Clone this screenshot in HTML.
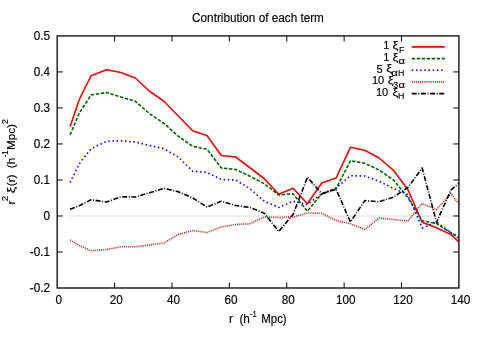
<!DOCTYPE html>
<html><head><meta charset="utf-8"><title>Contribution of each term</title>
<style>
html,body{margin:0;padding:0;background:#fff;}
body{width:480px;height:337px;overflow:hidden;}
svg{display:block;will-change:transform;}
text{font-family:"Liberation Sans",sans-serif;font-size:11.75px;fill:#000;stroke:#000;stroke-width:0.15px;}
.c{fill:none;stroke-width:1.6;stroke-linejoin:round;}
</style></head><body>
<svg width="480" height="337" viewBox="0 0 480 337">
<rect width="480" height="337" fill="#fff"/>
<line x1="70.11" y1="215.97" x2="458.90" y2="215.97" stroke="#e9e9e9" stroke-width="1.4"/>
<polyline class="c" stroke="#ff0000" points="70.11,126.60 79.29,99.50 91.06,75.75 106.55,69.75 120.90,72.50 135.24,78.00 149.59,91.25 163.94,101.25 178.28,116.00 192.63,130.75 206.98,135.50 221.32,155.50 235.67,157.00 250.02,167.75 264.36,178.75 278.71,194.25 293.06,188.25 307.40,203.75 321.75,183.00 336.09,178.00 350.44,147.30 364.79,150.25 379.13,158.00 393.48,170.30 407.83,189.50 422.17,222.20 436.52,227.80 450.87,234.40 458.90,242.00"/>
<polyline class="c" stroke="#006400" stroke-dasharray="3.4 1.6" points="70.11,134.85 79.29,113.00 91.06,95.00 106.55,92.50 120.90,97.00 135.24,101.25 149.59,113.75 163.94,123.25 178.28,136.25 192.63,146.25 206.98,149.25 221.32,168.00 235.67,169.50 250.02,176.25 264.36,183.75 278.71,195.00 293.06,193.75 307.40,211.25 321.75,193.75 336.09,188.75 350.44,160.75 364.79,163.25 379.13,170.00 393.48,180.00 407.83,197.50 422.17,220.70 436.52,223.50 450.87,232.60 458.90,238.30"/>
<polyline class="c" stroke="#0000ff" stroke-dasharray="1.5 2.7" points="70.11,182.50 79.29,163.75 91.06,148.75 106.55,141.25 120.90,140.75 135.24,142.00 149.59,145.50 163.94,148.75 178.28,157.00 192.63,171.25 206.98,172.50 221.32,179.50 235.67,180.00 250.02,188.75 264.36,201.25 278.71,207.50 293.06,201.25 307.40,204.50 321.75,193.75 336.09,188.00 350.44,175.75 364.79,176.00 379.13,181.25 393.48,188.50 407.83,194.50 422.17,228.00 436.52,222.00 450.87,232.60 458.90,237.00"/>
<polyline class="c" stroke="#b22222" stroke-dasharray="1.05 1.05" points="70.11,240.00 79.29,245.50 91.06,250.75 106.55,249.50 120.90,246.75 135.24,246.75 149.59,245.00 163.94,243.00 178.28,234.50 192.63,230.50 206.98,232.50 221.32,227.00 235.67,224.50 250.02,223.75 264.36,217.00 278.71,217.50 293.06,217.00 307.40,213.00 321.75,213.25 336.09,220.50 350.44,223.75 364.79,229.50 379.13,218.00 393.48,219.40 407.83,221.10 422.17,203.60 436.52,209.60 450.87,193.50 458.90,204.00"/>
<polyline class="c" stroke="#000000" stroke-dasharray="5 1.6 1 1.6" points="70.11,209.25 79.29,205.75 91.06,199.75 106.55,202.00 120.90,196.75 135.24,197.00 149.59,192.75 163.94,188.25 178.28,191.75 192.63,198.00 206.98,207.00 221.32,201.25 235.67,205.50 250.02,207.50 264.36,213.25 278.71,231.50 293.06,214.50 307.40,177.30 321.75,193.75 336.09,189.25 350.44,222.00 364.79,200.60 379.13,201.75 393.48,197.25 407.83,187.50 422.17,168.00 436.52,222.30 450.87,190.20 458.90,183.30"/>
<rect x="57.2" y="35.9" width="401.70" height="252.10" stroke="#141414" stroke-width="1.4" fill="none"/>
<text transform="translate(58.80,303.6) scale(1,1.06)" text-anchor="middle">0</text>
<line x1="114.59" y1="288.0" x2="114.59" y2="282.4" stroke="#1a1a1a" stroke-width="1.1" fill="none"/>
<line x1="114.59" y1="35.9" x2="114.59" y2="41.5" stroke="#1a1a1a" stroke-width="1.1" fill="none"/>
<text transform="translate(116.19,303.6) scale(1,1.06)" text-anchor="middle">20</text>
<line x1="171.97" y1="288.0" x2="171.97" y2="282.4" stroke="#1a1a1a" stroke-width="1.1" fill="none"/>
<line x1="171.97" y1="35.9" x2="171.97" y2="41.5" stroke="#1a1a1a" stroke-width="1.1" fill="none"/>
<text transform="translate(173.57,303.6) scale(1,1.06)" text-anchor="middle">40</text>
<line x1="229.36" y1="288.0" x2="229.36" y2="282.4" stroke="#1a1a1a" stroke-width="1.1" fill="none"/>
<line x1="229.36" y1="35.9" x2="229.36" y2="41.5" stroke="#1a1a1a" stroke-width="1.1" fill="none"/>
<text transform="translate(230.96,303.6) scale(1,1.06)" text-anchor="middle">60</text>
<line x1="286.74" y1="288.0" x2="286.74" y2="282.4" stroke="#1a1a1a" stroke-width="1.1" fill="none"/>
<line x1="286.74" y1="35.9" x2="286.74" y2="41.5" stroke="#1a1a1a" stroke-width="1.1" fill="none"/>
<text transform="translate(288.34,303.6) scale(1,1.06)" text-anchor="middle">80</text>
<line x1="344.13" y1="288.0" x2="344.13" y2="282.4" stroke="#1a1a1a" stroke-width="1.1" fill="none"/>
<line x1="344.13" y1="35.9" x2="344.13" y2="41.5" stroke="#1a1a1a" stroke-width="1.1" fill="none"/>
<text transform="translate(345.73,303.6) scale(1,1.06)" text-anchor="middle">100</text>
<line x1="401.51" y1="288.0" x2="401.51" y2="282.4" stroke="#1a1a1a" stroke-width="1.1" fill="none"/>
<line x1="401.51" y1="35.9" x2="401.51" y2="41.5" stroke="#1a1a1a" stroke-width="1.1" fill="none"/>
<text transform="translate(403.11,303.6) scale(1,1.06)" text-anchor="middle">120</text>
<text transform="translate(460.50,303.6) scale(1,1.06)" text-anchor="middle">140</text>
<text transform="translate(50,292.30) scale(1,1.06)" text-anchor="end">-0.2</text>
<line x1="57.2" y1="251.99" x2="62.800000000000004" y2="251.99" stroke="#1a1a1a" stroke-width="1.1" fill="none"/>
<line x1="458.9" y1="251.99" x2="453.29999999999995" y2="251.99" stroke="#1a1a1a" stroke-width="1.1" fill="none"/>
<text transform="translate(50,256.29) scale(1,1.06)" text-anchor="end">-0.1</text>
<line x1="57.2" y1="215.97" x2="62.800000000000004" y2="215.97" stroke="#1a1a1a" stroke-width="1.1" fill="none"/>
<line x1="458.9" y1="215.97" x2="453.29999999999995" y2="215.97" stroke="#1a1a1a" stroke-width="1.1" fill="none"/>
<text transform="translate(50,220.27) scale(1,1.06)" text-anchor="end">0</text>
<line x1="57.2" y1="179.96" x2="62.800000000000004" y2="179.96" stroke="#1a1a1a" stroke-width="1.1" fill="none"/>
<line x1="458.9" y1="179.96" x2="453.29999999999995" y2="179.96" stroke="#1a1a1a" stroke-width="1.1" fill="none"/>
<text transform="translate(50,184.26) scale(1,1.06)" text-anchor="end">0.1</text>
<line x1="57.2" y1="143.94" x2="62.800000000000004" y2="143.94" stroke="#1a1a1a" stroke-width="1.1" fill="none"/>
<line x1="458.9" y1="143.94" x2="453.29999999999995" y2="143.94" stroke="#1a1a1a" stroke-width="1.1" fill="none"/>
<text transform="translate(50,148.24) scale(1,1.06)" text-anchor="end">0.2</text>
<line x1="57.2" y1="107.93" x2="62.800000000000004" y2="107.93" stroke="#1a1a1a" stroke-width="1.1" fill="none"/>
<line x1="458.9" y1="107.93" x2="453.29999999999995" y2="107.93" stroke="#1a1a1a" stroke-width="1.1" fill="none"/>
<text transform="translate(50,112.23) scale(1,1.06)" text-anchor="end">0.3</text>
<line x1="57.2" y1="71.91" x2="62.800000000000004" y2="71.91" stroke="#1a1a1a" stroke-width="1.1" fill="none"/>
<line x1="458.9" y1="71.91" x2="453.29999999999995" y2="71.91" stroke="#1a1a1a" stroke-width="1.1" fill="none"/>
<text transform="translate(50,76.21) scale(1,1.06)" text-anchor="end">0.4</text>
<text transform="translate(50,40.20) scale(1,1.06)" text-anchor="end">0.5</text>
<text transform="translate(258,22.3) scale(1,1.06)" text-anchor="middle">Contribution of each term</text>
<text transform="translate(228.95,322.9) scale(1,1.06)" xml:space="preserve">r  (h</text>
<text transform="translate(249.9,316.7) scale(0.86,1.1)" style="font-size:8.8px">-1</text>
<text transform="translate(261.3,322.9) scale(0.972,1.06)">Mpc)</text>
<g transform="translate(14.6,203.8) rotate(-90)">
<text x="-0.75" y="0">r</text>
<text transform="translate(2.5,-6.6) scale(1.1,1)" style="font-size:8.8px">2</text>
<text transform="translate(10.6,0) scale(1.25,1)">ξ</text>
<text x="17.55" y="0">(r)</text>
<text x="35.55" y="0">(h</text>
<text transform="translate(46.45,-6.6) scale(0.88,1)" style="font-size:8.8px">-1</text>
<text x="53.7" y="0">Mpc)</text>
<text x="79.7" y="-6.6" style="font-size:8.8px">2</text>
</g>
<line x1="411.7" y1="46.9" x2="444.8" y2="46.9" stroke="#ff0000" stroke-width="1.6"/>
<text x="383.2" y="49.20" style="font-size:11.0px">1</text>
<text transform="translate(392.45,49.00) scale(1.2,1)" style="font-size:11.0px">ξ</text>
<text transform="translate(399.0,52.70) scale(1.0,1)" style="font-size:8.8px">F</text>
<line x1="411.7" y1="58.65" x2="444.8" y2="58.65" stroke="#006400" stroke-width="1.6" stroke-dasharray="3.4 1.6"/>
<text x="383.2" y="60.95" style="font-size:11.0px">1</text>
<text transform="translate(392.45,60.75) scale(1.2,1)" style="font-size:11.0px">ξ</text>
<text transform="translate(398.45,64.45) scale(1.28,1)" style="font-size:8.8px">α</text>
<line x1="411.7" y1="70.25" x2="444.8" y2="70.25" stroke="#0000ff" stroke-width="1.6" stroke-dasharray="1.5 2.7"/>
<text x="376.4" y="72.55" style="font-size:11.0px">5</text>
<text transform="translate(386.35,72.35) scale(1.2,1)" style="font-size:11.0px">ξ</text>
<text transform="translate(391.35,76.05) scale(1.28,1)" style="font-size:8.8px">α</text>
<text transform="translate(398.1,76.05) scale(1.0,1)" style="font-size:8.8px">H</text>
<line x1="411.7" y1="81.9" x2="444.8" y2="81.9" stroke="#b22222" stroke-width="1.6" stroke-dasharray="1.05 1.05"/>
<text x="372.0" y="84.20" style="font-size:11.0px">10</text>
<text transform="translate(387.65,84.00) scale(1.2,1)" style="font-size:11.0px">ξ</text>
<text transform="translate(393.15,87.70) scale(1.0,1)" style="font-size:8.8px">3</text>
<text transform="translate(398.45,87.70) scale(1.28,1)" style="font-size:8.8px">α</text>
<line x1="411.7" y1="93.65" x2="444.8" y2="93.65" stroke="#000000" stroke-width="1.6" stroke-dasharray="5 1.6 1 1.6"/>
<text x="375.95" y="95.95" style="font-size:11.0px">10</text>
<text transform="translate(392.45,95.75) scale(1.2,1)" style="font-size:11.0px">ξ</text>
<text transform="translate(398.1,99.45) scale(1.0,1)" style="font-size:8.8px">H</text>
</svg></body></html>
